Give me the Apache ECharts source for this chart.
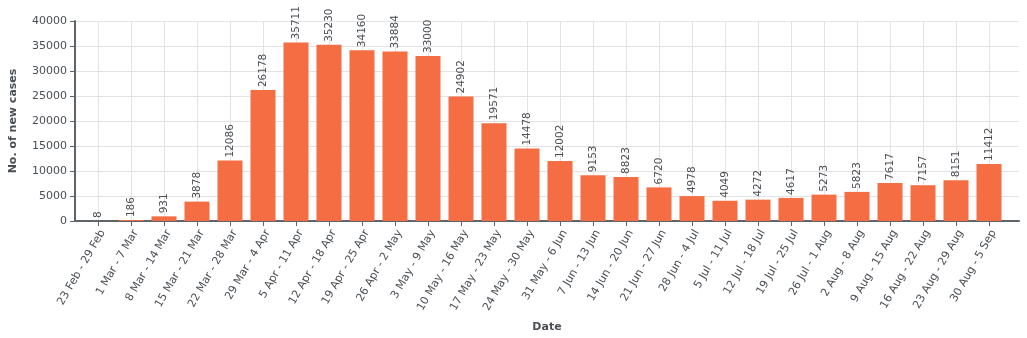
<!DOCTYPE html>
<html>
<head>
<meta charset="utf-8">
<script src="https://cdn.jsdelivr.net/npm/echarts@6/dist/echarts.min.js"></script>
<style>
  html, body { margin: 0; padding: 0; background: #fff; }
  #chart { width: 1027px; height: 338px; }
</style>
</head>
<body>
<div id="chart"></div>
<script>
// Weekly new cases
const weeks = [
  "23 Feb - 29 Feb", "1 Mar - 7 Mar", "8 Mar - 14 Mar", "15 Mar - 21 Mar",
  "22 Mar - 28 Mar", "29 Mar - 4 Apr", "5 Apr - 11 Apr", "12 Apr - 18 Apr",
  "19 Apr - 25 Apr", "26 Apr - 2 May", "3 May - 9 May", "10 May - 16 May",
  "17 May - 23 May", "24 May - 30 May", "31 May - 6 Jun", "7 Jun - 13 Jun",
  "14 Jun - 20 Jun", "21 Jun - 27 Jun", "28 Jun - 4 Jul", "5 Jul - 11 Jul",
  "12 Jul - 18 Jul", "19 Jul - 25 Jul", "26 Jul - 1 Aug", "2 Aug - 8 Aug",
  "9 Aug - 15 Aug", "16 Aug - 22 Aug", "23 Aug - 29 Aug", "30 Aug - 5 Sep"
];
const newCases = [
  8, 186, 931, 3878, 12086, 26178, 35711, 35230, 34160, 33884, 33000, 24902,
  19571, 14478, 12002, 9153, 8823, 6720, 4978, 4049, 4272, 4617, 5273, 5823,
  7617, 7157, 8151, 11412
];
const yTicks = { min: 0, max: 40000, step: 5000 };

const FONT = "DejaVu Sans";
const AXIS_COLOR = "#5f6468";
const TEXT_COLOR = "#4a4f55";
const GRID_COLOR = "#e3e3e3";

const chart = echarts.init(document.getElementById("chart"), null, { renderer: "canvas" });

chart.setOption({
  animation: false,
  textStyle: { fontFamily: FONT },
  grid: [
    // outer frame: axis lines and horizontal grid lines
    { left: 69, right: 8, top: 21, bottom: 117 },
    // band area: bars and category labels
    { left: 81.5, right: 21.5, top: 21, bottom: 117 },
    // first-to-last band centres: vertical grid lines
    { left: 98, right: 38, top: 21, bottom: 117 }
  ],
  xAxis: [
    {
      type: "value", gridIndex: 0, min: 0, max: 1,
      axisLine: { show: true, lineStyle: { color: AXIS_COLOR, width: 2 } },
      axisTick: { show: false }, axisLabel: { show: false }, splitLine: { show: false },
      name: "Date", nameLocation: "middle", nameGap: 101,
      nameTextStyle: { fontFamily: FONT, fontWeight: "bold", fontSize: 11, color: TEXT_COLOR }
    },
    {
      type: "category", gridIndex: 1, data: weeks, boundaryGap: true,
      axisLine: { show: false },
      axisTick: { show: true, alignWithLabel: true, length: 5, lineStyle: { color: AXIS_COLOR, width: 1 } },
      axisLabel: {
        interval: 0, rotate: 60, margin: 7, fontSize: 11, color: TEXT_COLOR, fontFamily: FONT,
        verticalAlign: "top"
      },
      splitLine: { show: false }
    },
    {
      type: "category", gridIndex: 2, data: weeks, boundaryGap: false,
      axisLine: { show: false }, axisTick: { show: false }, axisLabel: { show: false },
      splitLine: { show: true, interval: 0, lineStyle: { color: GRID_COLOR, width: 1 } }
    }
  ],
  yAxis: [
    {
      type: "value", gridIndex: 0, min: yTicks.min, max: yTicks.max, interval: yTicks.step,
      axisLine: { show: true, lineStyle: { color: AXIS_COLOR, width: 2 } },
      axisTick: { show: true, length: 5, lineStyle: { color: AXIS_COLOR, width: 1 } },
      axisLabel: {
        fontSize: 11, color: TEXT_COLOR, fontFamily: FONT, margin: 8,
        formatter: (v) => String(v)
      },
      splitLine: { show: true, lineStyle: { color: GRID_COLOR, width: 1 } },
      name: "No. of new cases", nameLocation: "middle", nameGap: 56, nameRotate: 90,
      nameTextStyle: { fontFamily: FONT, fontWeight: "bold", fontSize: 11, color: TEXT_COLOR }
    },
    {
      type: "value", gridIndex: 1, min: yTicks.min, max: yTicks.max, interval: yTicks.step,
      show: false, splitLine: { show: false }
    },
    {
      type: "value", gridIndex: 2, min: yTicks.min, max: yTicks.max, interval: yTicks.step,
      show: false, splitLine: { show: false }
    }
  ],
  series: [
    {
      type: "bar", xAxisIndex: 1, yAxisIndex: 1, data: newCases,
      barWidth: 25, z: 3,
      itemStyle: { color: "#f46d43" },
      label: {
        show: true, position: "top", rotate: 90, align: "left", verticalAlign: "middle",
        distance: 3, fontSize: 10.5, color: TEXT_COLOR, fontFamily: FONT
      }
    }
  ]
});
</script>
</body>
</html>
